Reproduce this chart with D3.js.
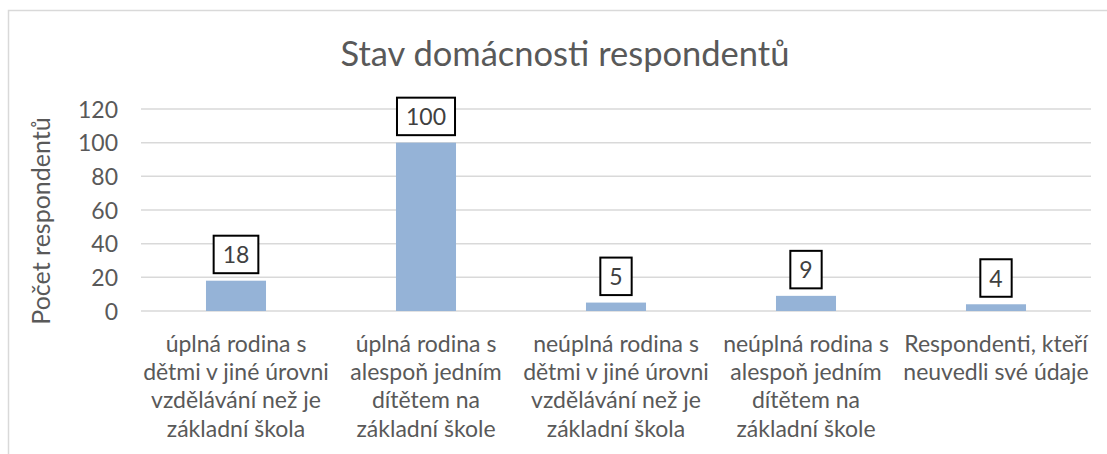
<!DOCTYPE html>
<html lang="cs">
<head>
    <meta charset="UTF-8" />
    <title>Stav domácnosti respondentů</title>
    <style>
        body,
        html {
            margin: 0;
            padding: 0;
            background-color: white;
        }

        svg text {
            font-family: Lato, "Open Sans", sans-serif;
        }
    </style>
</head>
<body>
    <svg id="svg" width="1107" height="454"></svg>
    <script src="https://cdn.jsdelivr.net/npm/d3@7"></script>
    <script>
        // chart data
        const categories = [
            ["úplná rodina s", "dětmi v jiné úrovni", "vzdělávání než je", "základní škola"],
            ["úplná rodina s", "alespoň jedním", "dítětem na", "základní škole"],
            ["neúplná rodina s", "dětmi v jiné úrovni", "vzdělávání než je", "základní škola"],
            ["neúplná rodina s", "alespoň jedním", "dítětem na", "základní škole"],
            ["Respondenti, kteří", "neuvedli své údaje"]
        ];
        const values = [18, 100, 5, 9, 4];
        const yTicks = [0, 20, 40, 60, 80, 100, 120];
        const title = "Stav domácnosti respondentů";
        const yLabel = "Počet respondentů";

        const plot = { left: 141, right: 1091, top: 109, bottom: 311 };
        const textColor = "#595959";

        const svg = d3.select("#svg");

        // outer chart border (cut off at right/bottom)
        svg.append("rect")
            .attr("x", 8.5)
            .attr("y", 10.5)
            .attr("width", 1120)
            .attr("height", 460)
            .attr("fill", "white")
            .attr("stroke", "#d9d9d9")
            .attr("stroke-width", 1.5);

        const idx = categories.map((d, i) => i);

        const xScale = d3.scaleBand()
            .domain(idx)
            .range([plot.left, plot.right])
            .paddingInner(0.684)
            .paddingOuter(0.342);

        const yScale = d3.scaleLinear()
            .domain([0, 120])
            .range([plot.bottom, plot.top]);

        // title
        svg.append("text")
            .attr("x", 565)
            .attr("y", 66)
            .attr("text-anchor", "middle")
            .attr("fill", textColor)
            .style("font-size", "34.5px")
            .text(title);

        // gridlines
        svg.append("g")
            .selectAll("line")
            .data(yTicks)
            .enter()
            .append("line")
            .attr("x1", plot.left)
            .attr("x2", plot.right)
            .attr("y1", (d) => yScale(d))
            .attr("y2", (d) => yScale(d))
            .attr("stroke", "#d9d9d9")
            .attr("stroke-width", 1.5);

        // y-axis tick labels
        const yAxis = svg.append("g")
            .attr("transform", `translate(${plot.left - 23},0)`)
            .call(d3.axisLeft(yScale).tickValues(yTicks).tickSize(0).tickPadding(0));
        yAxis.select(".domain").remove();
        yAxis.selectAll("text")
            .attr("fill", textColor)
            .attr("dy", "0.35em")
            .style("font-size", "23px")
            .style("font-family", "Lato, 'Open Sans', sans-serif");

        // y-axis label
        svg.append("text")
            .attr("transform", "translate(50,221) rotate(-90)")
            .attr("text-anchor", "middle")
            .attr("fill", textColor)
            .style("font-size", "25px")
            .text(yLabel);

        // bars
        svg.append("g")
            .selectAll("rect")
            .data(values)
            .enter()
            .append("rect")
            .attr("x", (d, i) => xScale(i))
            .attr("y", (d) => yScale(d))
            .attr("width", xScale.bandwidth())
            .attr("height", (d) => yScale(0) - yScale(d))
            .attr("fill", "#95b3d7");

        // data labels with boxes
        const labels = svg.append("g")
            .selectAll("g")
            .data(values)
            .enter()
            .append("g")
            .attr("transform", (d, i) => `translate(${xScale(i) + xScale.bandwidth() / 2},${yScale(d) - 7.5})`);

        labels.append("text")
            .attr("text-anchor", "middle")
            .attr("y", -10)
            .attr("fill", "#404040")
            .style("font-size", "23px")
            .text((d) => d);

        labels.each(function () {
            const g = d3.select(this);
            const w = g.select("text").node().getComputedTextLength() + 18;
            g.insert("rect", "text")
                .attr("x", -w / 2)
                .attr("y", -37.5)
                .attr("width", w)
                .attr("height", 37.5)
                .attr("fill", "white")
                .attr("stroke", "black")
                .attr("stroke-width", 2);
        });

        // category labels
        const cats = svg.append("g")
            .selectAll("text")
            .data(categories)
            .enter()
            .append("text")
            .attr("text-anchor", "middle")
            .attr("fill", textColor)
            .style("font-size", "23px");

        cats.selectAll("tspan")
            .data((d, i) => d.map((line) => ({ line, i })))
            .enter()
            .append("tspan")
            .attr("x", (d) => xScale(d.i) + xScale.bandwidth() / 2)
            .attr("y", (d, j) => 351.7 + j * 28.3)
            .text((d) => d.line);
    </script>
</body>
</html>
